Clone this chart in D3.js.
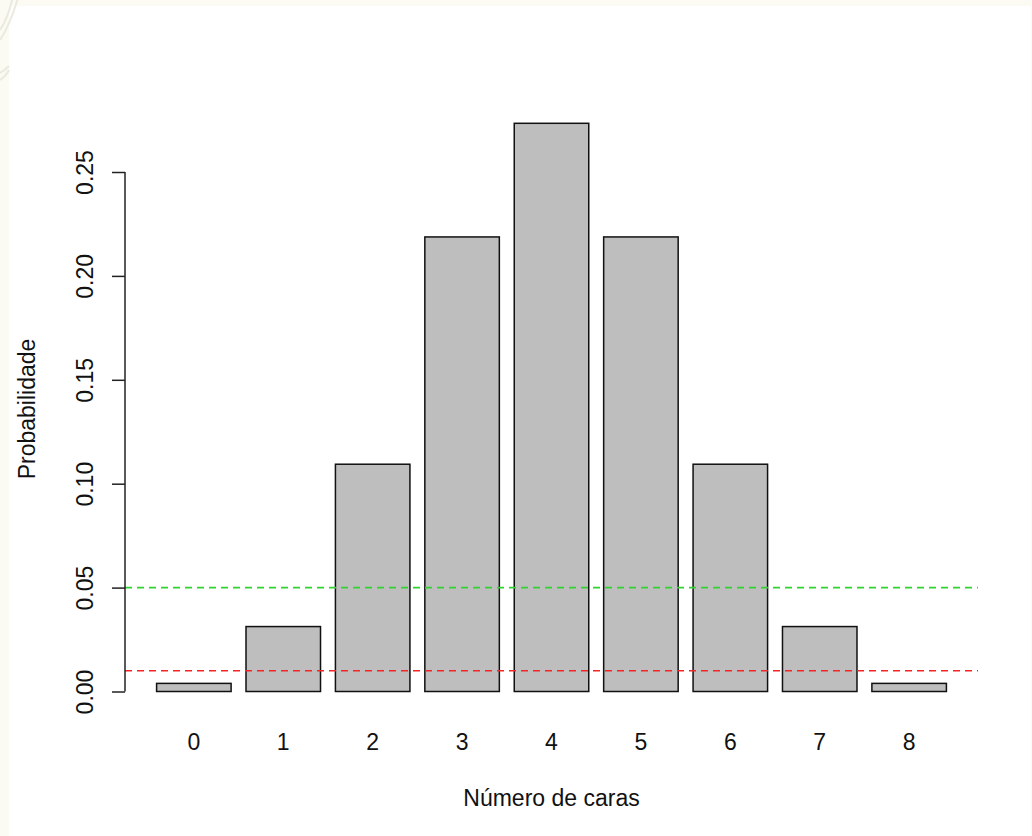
<!DOCTYPE html>
<html>
<head>
<meta charset="utf-8">
<script src="https://cdn.jsdelivr.net/npm/d3@7/dist/d3.min.js"></script>
<style>
  html, body { margin: 0; padding: 0; background: #fbfaf3; }
  svg { display: block; }
</style>
</head>
<body>
<script>
// ---- data ----
const categories = ["0", "1", "2", "3", "4", "5", "6", "7", "8"];
const probabilities = [0.00390625, 0.03125, 0.109375, 0.21875, 0.2734375, 0.21875, 0.109375, 0.03125, 0.00390625];
const yTicks = [0.00, 0.05, 0.10, 0.15, 0.20, 0.25];
const yTickLabels = ["0.00", "0.05", "0.10", "0.15", "0.20", "0.25"];
const refLines = [
  { value: 0.05, color: "#2fd42f" },
  { value: 0.01, color: "#f52525" }
];
const xTitle = "Número de caras";
const yTitle = "Probabilidade";

// ---- layout ----
const W = 1032, H = 836;
const plotLeft = 125, plotRight = 978;
const font = "'Liberation Sans', Arial, sans-serif";
const fs = 23;

const svg = d3.select("body").append("svg").attr("width", W).attr("height", H);

// cream frame + white page
svg.append("rect").attr("width", W).attr("height", H).attr("fill", "#fbfaf3");
svg.append("rect").attr("x", 9).attr("y", 6).attr("width", W - 10).attr("height", H - 6).attr("fill", "#ffffff");
// faint decorative arcs at top-left
const deco = svg.append("g").attr("fill", "none").attr("stroke", "#ebeadf").attr("stroke-width", 2);
deco.append("path").attr("d", "M0,40 Q10,25 18,-2");
deco.append("path").attr("d", "M0,30 Q8,18 12,0");
deco.append("path").attr("d", "M0,80 Q6,76 9,70");
deco.append("path").attr("d", "M0,73 Q5,70 9,66");

// scales
const x = d3.scaleBand()
  .domain(categories)
  .range([plotLeft, plotRight])
  .paddingInner(0.2 / 1.2)
  .paddingOuter(0.424 / 1.2);

const y = d3.scaleLinear().domain([0, 0.25]).range([691.5, 172]);

// bars
svg.append("g").selectAll("rect")
  .data(probabilities)
  .join("rect")
  .attr("x", (d, i) => x(categories[i]))
  .attr("y", d => y(d))
  .attr("width", x.bandwidth())
  .attr("height", d => y(0) - y(d))
  .attr("fill", "#bebebe")
  .attr("stroke", "#111")
  .attr("stroke-width", 1.5);

// reference dashed lines
svg.append("g").selectAll("line")
  .data(refLines)
  .join("line")
  .attr("x1", plotLeft)
  .attr("x2", plotRight)
  .attr("y1", d => y(d.value))
  .attr("y2", d => y(d.value))
  .attr("stroke", d => d.color)
  .attr("stroke-width", 1.6)
  .attr("stroke-dasharray", "7,5");

// y axis
const yAxis = d3.axisLeft(y)
  .tickValues(yTicks)
  .tickFormat((d, i) => yTickLabels[i])
  .tickSize(13)
  .tickSizeOuter(0);
const gy = svg.append("g").attr("transform", `translate(${plotLeft},0)`).call(yAxis);
gy.select(".domain").attr("stroke", "#222").attr("stroke-width", 1.5)
  .attr("d", `M0,${y(0.25)}V${y(0)}`);
gy.selectAll(".tick line").attr("stroke", "#222").attr("stroke-width", 1.5);
gy.selectAll(".tick text")
  .attr("font-family", font)
  .attr("font-size", fs)
  .attr("fill", "#111")
  .attr("text-anchor", "middle")
  .attr("x", null).attr("dy", null)
  .attr("transform", "translate(-32,0) rotate(-90)")
  .attr("y", 0);

// x category labels (no axis line, as in R barplot)
const xAxis = d3.axisBottom(x).tickSize(0).tickSizeOuter(0);
const gx = svg.append("g").attr("transform", "translate(0,727)").call(xAxis);
gx.select(".domain").remove();
gx.selectAll(".tick text")
  .attr("font-family", font)
  .attr("font-size", fs)
  .attr("fill", "#111")
  .attr("dy", null)
  .attr("y", 23);

// titles
svg.append("text")
  .attr("x", (plotLeft + plotRight) / 2)
  .attr("y", 806)
  .attr("text-anchor", "middle")
  .attr("font-family", font)
  .attr("font-size", fs)
  .attr("fill", "#111")
  .text(xTitle);

svg.append("text")
  .attr("transform", `translate(35,409) rotate(-90)`)
  .attr("text-anchor", "middle")
  .attr("font-family", font)
  .attr("font-size", fs)
  .attr("fill", "#111")
  .text(yTitle);
</script>
</body>
</html>
